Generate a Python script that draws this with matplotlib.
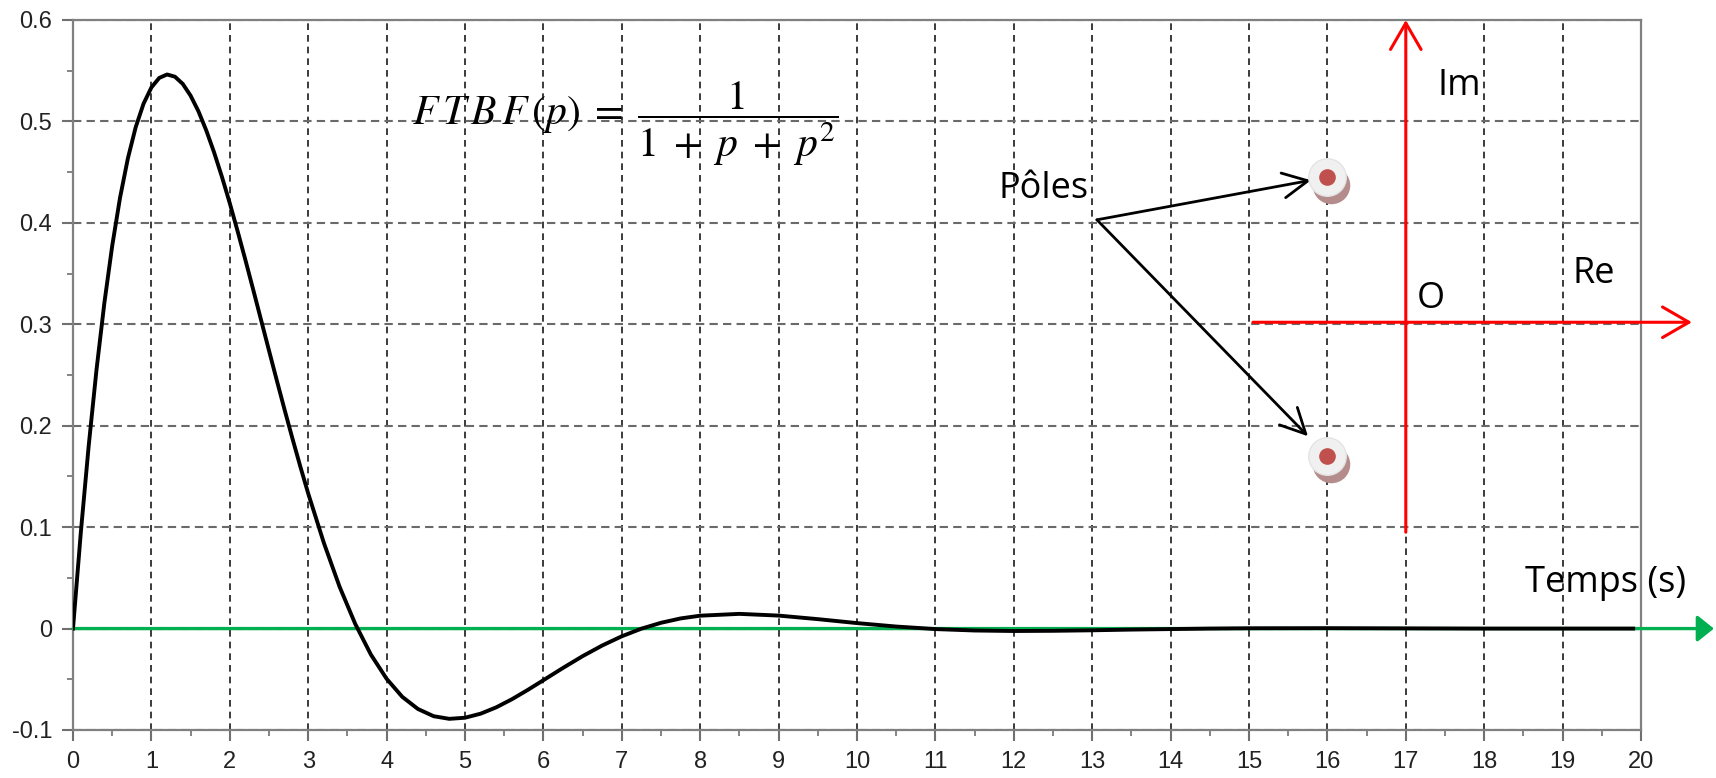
import matplotlib
matplotlib.use("Agg")
import matplotlib.pyplot as plt
import matplotlib.transforms as mtransforms

# impulse response of the closed loop
t = [0.0, 0.1, 0.2, 0.3, 0.4, 0.5, 0.6, 0.7, 0.8, 0.9,
     1.0, 1.1, 1.2, 1.3, 1.4, 1.5, 1.6, 1.7, 1.8, 1.9,
     2.0, 2.1, 2.2, 2.3, 2.4, 2.5, 2.6, 2.7, 2.8, 2.9,
     3.0, 3.2, 3.4, 3.6, 3.8, 4.0, 4.2, 4.4, 4.6, 4.8,
     5.0, 5.2, 5.4, 5.6, 5.8, 6.0, 6.25, 6.5, 6.75, 7.0,
     7.25, 7.5, 7.75, 8.0, 8.5, 9.0, 9.5, 10.0, 10.5, 11.0,
     11.5, 12.0, 12.5, 13.0, 13.5, 14.0, 14.5, 15.0, 16.0, 17.0,
     18.0, 19.0, 19.9]
h = [0.0, 0.0950, 0.1801, 0.2553, 0.3210, 0.3773, 0.4248, 0.4636, 0.4944, 0.5175,
     0.5335, 0.5429, 0.5463, 0.5441, 0.5370, 0.5254, 0.5100, 0.4911, 0.4694, 0.4453,
     0.4193, 0.3917, 0.3631, 0.3337, 0.3039, 0.2741, 0.2445, 0.2154, 0.1871, 0.1596,
     0.1332, 0.0844, 0.0413, 0.0046, -0.0257, -0.0495, -0.0673, -0.0793, -0.0864, -0.0890,
     -0.0879, -0.0839, -0.0776, -0.0696, -0.0605, -0.0509, -0.0388, -0.0272, -0.0167, -0.0076,
     -0.0001, 0.0057, 0.0100, 0.0127, 0.0145, 0.0128, 0.0093, 0.0054, 0.0020, -0.0005,
     -0.0019, -0.0024, -0.0022, -0.0017, -0.0010, -0.0005, 0.0, 0.0003, 0.0004, 0.0002,
     0.0, 0.0, 0.0]

# sketch of the complex plane drawn over the plot
pole_x = [16.0, 16.0]
pole_y = [0.445, 0.170]
pole_label_at = (13.06, 0.403)

x_ticks = list(range(0, 21))
y_ticks = [-0.1, 0.0, 0.1, 0.2, 0.3, 0.4, 0.5, 0.6]
y_tick_labels = ["-0.1", "0", "0.1", "0.2", "0.3", "0.4", "0.5", "0.6"]

plt.rcParams["mathtext.fontset"] = "stix"

fig = plt.figure(figsize=(17.16, 7.78), dpi=100)
ax = fig.add_axes([73 / 1716, 48 / 778, 1568 / 1716, 710 / 778])

ax.set_xlim(0, 20)
ax.set_ylim(-0.1, 0.6)
ax.set_xticks(x_ticks)
ax.set_xticks([x + 0.5 for x in x_ticks[:-1]], minor=True)
ax.set_yticks(y_ticks)
ax.set_yticklabels(y_tick_labels)
ax.set_yticks([y + 0.05 for y in y_ticks[:-1]], minor=True)

for lab in ax.get_xticklabels() + ax.get_yticklabels():
    lab.set_family("Liberation Sans")
    lab.set_fontsize(17)
    lab.set_color("#222222")

ax.tick_params(which="major", direction="out", length=8, width=1.5,
               color="#707070", pad=7)
ax.tick_params(which="minor", direction="out", length=4, width=1.2,
               color="#707070")
for sp in ax.spines.values():
    sp.set_color("#808080")
    sp.set_linewidth(1.6)

ax.xaxis.grid(True, color="#1a1a1a", ls=(0, (4, 3)), lw=1.2)
ax.yaxis.grid(True, color="#6a6a6a", ls=(0, (4, 2.5)), lw=1.5)
ax.set_axisbelow(True)

# time axis in green
ax.annotate("", xy=(20.93, 0), xytext=(0, 0), annotation_clip=False,
            arrowprops=dict(arrowstyle="-|>,head_length=0.5,head_width=0.4",
                            mutation_scale=20, color="#00b050", lw=2.4,
                            shrinkA=0, shrinkB=0), zorder=3)

ax.plot(t, h, color="black", lw=2.8, zorder=4)

# Re / Im axes
ax.annotate("", xy=(17, 0.6), xytext=(17, 0.095), annotation_clip=False,
            arrowprops=dict(arrowstyle="->,head_length=0.95,head_width=0.55",
                            mutation_scale=20, color="red", lw=2.2,
                            shrinkA=0, shrinkB=0), zorder=5)
ax.annotate("", xy=(20.65, 0.302), xytext=(15.05, 0.302), annotation_clip=False,
            arrowprops=dict(arrowstyle="->,head_length=0.95,head_width=0.55",
                            mutation_scale=20, color="red", lw=2.2,
                            shrinkA=0, shrinkB=0), zorder=5)

text_font = dict(family="Open Sans", fontsize=26, color="black")
ax.text(17.41, 0.526, "Im", ha="left", va="baseline", **text_font)
ax.text(19.13, 0.341, "Re", ha="left", va="baseline", **text_font)
ax.text(17.14, 0.316, "O", ha="left", va="baseline", **text_font)
ax.text(18.52, 0.036, "Temps (s)", ha="left", va="baseline", **text_font)
ax.text(11.80, 0.4245, "Pôles", ha="left", va="baseline", **text_font)

ax.text(4.32, 0.4965,
        r"$F\,T\,B\,F\,(p)\;=\;\dfrac{1}"
        r"{1\hspace{0.3}+\hspace{0.3}p\hspace{0.3}+\hspace{0.3}p^2}$",
        ha="left", va="baseline", fontsize=30, zorder=6)

# poles: shaded disc with a red dot
shadow = mtransforms.offset_copy(ax.transData, fig=fig, x=4, y=-8, units="dots")
ax.plot(pole_x, pole_y, "o", ms=27, color="#b48c8c", mec="none",
        transform=shadow, zorder=6, clip_on=False)
ax.plot(pole_x, pole_y, "o", ms=27, color="#f0f0f0", mec="#e4e4e4",
        zorder=7, clip_on=False)
ax.plot(pole_x, pole_y, "o", ms=12, color="#c0504d", mec="none",
        zorder=8, clip_on=False)

for px, py, gap in zip(pole_x, pole_y, [12, 20]):
    ax.annotate("", xy=(px, py), xytext=pole_label_at,
                arrowprops=dict(arrowstyle="->,head_length=0.9,head_width=0.45",
                                mutation_scale=20, color="black", lw=2,
                                shrinkA=0, shrinkB=gap), zorder=6)

fig.savefig("out.png", dpi=100)
